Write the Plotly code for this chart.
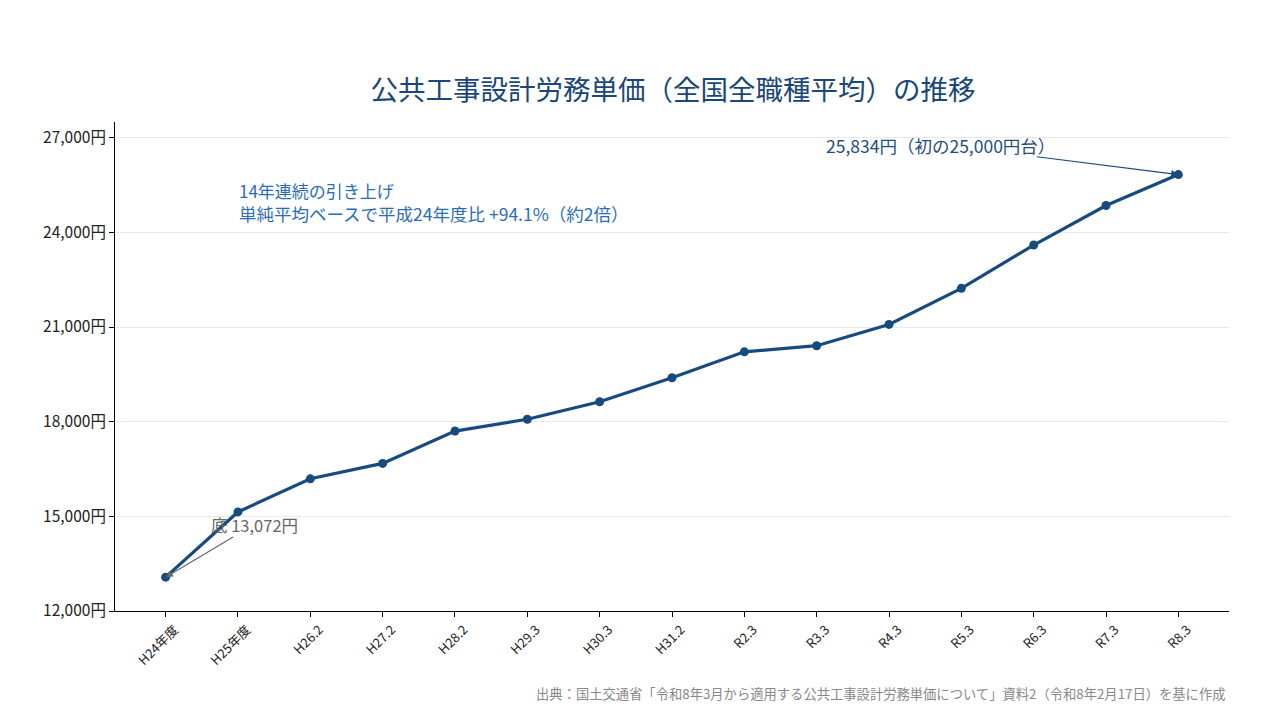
import plotly.graph_objects as go

categories = ["H24年度", "H25年度", "H26.2", "H27.2", "H28.2", "H29.3", "H30.3", "H31.2",
              "R2.3", "R3.3", "R4.3", "R5.3", "R6.3", "R7.3", "R8.3"]
values = [13072, 15140, 16190, 16678, 17704, 18078, 18632, 19392,
          20214, 20409, 21084, 22227, 23600, 24852, 25834]
y_ticks = [12000, 15000, 18000, 21000, 24000, 27000]

FONT = "Noto Sans CJK JP"
LINE = "#174a7e"

# plot area in pixels (for placing free text)
L, R, T, B = 115, 1229, 122, 611
def px(x):
    return (x - L) / (R - L)
def py(y):
    return (B - y) / (B - T)

fig = go.Figure()
fig.add_trace(go.Scatter(
    x=list(range(len(categories))), y=values, mode="lines+markers",
    line=dict(color=LINE, width=3.2),
    marker=dict(color=LINE, size=9),
    showlegend=False, hoverinfo="skip",
))

fig.update_layout(
    width=1280, height=720,
    margin=dict(l=L, r=1280 - R, t=T, b=720 - B),
    paper_bgcolor="white", plot_bgcolor="white",
    font=dict(family=FONT, color="#222"),
    title=dict(text="公共工事設計労務単価（全国全職種平均）の推移",
               x=673 / 1280, xanchor="center",
               y=1 - 90 / 720, yanchor="middle",
               font=dict(size=27.5, color="#1a4779", family=FONT)),
)

fig.update_xaxes(
    range=[-0.7, len(categories) - 1 + 0.7],
    tickmode="array", tickvals=list(range(len(categories))), ticktext=categories,
    tickangle=-45, tickfont=dict(size=13, color="#222"),
    ticklabelshift=9,
    showline=True, linecolor="black", linewidth=1,
    ticks="outside", ticklen=5, tickcolor="black",
    showgrid=False, zeroline=False,
)
fig.update_yaxes(
    range=[12000, 27500],
    tickmode="array", tickvals=y_ticks,
    ticktext=[f"{v:,}円" for v in y_ticks],
    tickfont=dict(size=15.5, color="#222"),
    showline=True, linecolor="black", linewidth=1,
    ticks="outside", ticklen=5, tickcolor="black",
    showgrid=True, gridcolor="#e6e8f5", gridwidth=1, zeroline=False,
)

# annotation: bottom
fig.add_annotation(x=0, y=values[0], xref="x", yref="y",
                   ax=69, ay=-41, text="", showarrow=True,
                   arrowhead=2, arrowsize=1.2, arrowwidth=1.2, arrowcolor="#666")
fig.add_annotation(x=px(209), y=py(525), xref="paper", yref="paper",
                   text="底 13,072円", showarrow=False, xanchor="left", yanchor="middle",
                   font=dict(size=16.5, color="#666"))
# annotation: top
fig.add_annotation(x=len(categories) - 1, y=values[-1], xref="x", yref="y",
                   ax=-143, ay=-18, text="", showarrow=True,
                   arrowhead=2, arrowsize=1.2, arrowwidth=1.2, arrowcolor=LINE)
fig.add_annotation(x=px(940), y=py(145), xref="paper", yref="paper",
                   text="25,834円（初の25,000円台）", showarrow=False,
                   xanchor="center", yanchor="middle",
                   font=dict(size=17.5, color="#1f4e80"))
# text note (two lines)
fig.add_annotation(x=px(238), y=py(190), xref="paper", yref="paper",
                   text="14年連続の引き上げ", borderpad=0,
                   showarrow=False, xanchor="left", yanchor="middle", align="left",
                   font=dict(size=17, color="#2b6cb8"))
fig.add_annotation(x=px(238), y=py(213.5), xref="paper", yref="paper",
                   text="単純平均ベースで平成24年度比 +94.1%（約2倍）", borderpad=0,
                   showarrow=False, xanchor="left", yanchor="middle", align="left",
                   font=dict(size=17.5, color="#2b6cb8"))
# source
fig.add_annotation(x=px(1228), y=py(693), xref="paper", yref="paper",
                   text="出典：国土交通省「令和8年3月から適用する公共工事設計労務単価について」資料2（令和8年2月17日）を基に作成",
                   showarrow=False, xanchor="right", yanchor="middle",
                   font=dict(size=13.3, color="#888"))

fig.write_html("out.html")
